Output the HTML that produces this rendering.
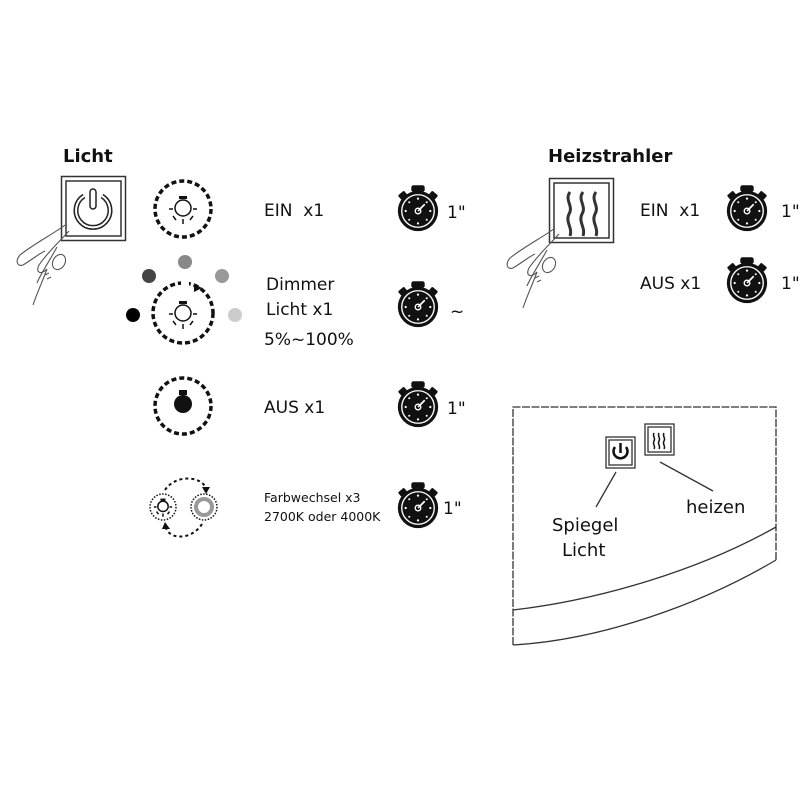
<!DOCTYPE html>
<html><head><style>
body{margin:0;background:#fff}
svg{display:block}
text{font-family:"DejaVu Sans","Liberation Sans",sans-serif;fill:#111;white-space:pre}
</style></head><body>
<svg width="800" height="800" viewBox="0 0 800 800">
<defs>
<g id="sw0">
<rect x="-6" y="-23" width="12" height="6" rx="2" fill="#111"/>
<rect x="-2" y="-19" width="4" height="4" fill="#111"/>
<rect x="-17" y="-17" width="7" height="5" rx="1" transform="rotate(-40 -13 -14)" fill="#111"/>
<rect x="10" y="-17" width="7" height="5" rx="1" transform="rotate(40 13 -14)" fill="#111"/>
<circle r="18" fill="#111"/>
<circle r="14.5" fill="none" stroke="#fff" stroke-width="1.2"/>
<g fill="#fff"><circle cx="0" cy="-11" r="1"/><circle cx="0" cy="11" r="1"/><circle cx="-11" cy="0" r="1"/><circle cx="11" cy="0" r="1"/><circle cx="7.8" cy="-7.8" r="0.9"/><circle cx="-7.8" cy="7.8" r="0.9"/><circle cx="7.8" cy="7.8" r="0.9"/><circle cx="-7.8" cy="-7.8" r="0.9"/></g>
<line x1="0" y1="0" x2="6" y2="-6" stroke="#fff" stroke-width="1.5"/>
<circle r="2.5" fill="none" stroke="#fff" stroke-width="1.2"/>
</g>
<g id="sw"><g transform="scale(1.12)"><use href="#sw0"/></g></g>
<g id="bulb" fill="none" stroke="#111" stroke-width="1.5">
<rect x="-4" y="-13" width="8" height="3" fill="#111" stroke="none"/>
<circle cx="0" cy="-1" r="8"/>
<line x1="-14" y1="0" x2="-10" y2="0"/><line x1="10" y1="0" x2="14" y2="0"/>
<line x1="-10" y1="7" x2="-7" y2="11"/><line x1="10" y1="7" x2="7" y2="11"/>
<line x1="0" y1="10" x2="0" y2="15"/>
</g>
<g id="hand" fill="none" stroke="#555" stroke-width="1.1">
<path d="M0,0 C-10,8 -30,18 -45,30 C-50,36 -48,42 -42,40 C-32,34 -25,28 -20,26"/>
<path d="M4,6 C-5,16 -18,28 -26,40 C-30,48 -24,50 -18,44"/>
<path d="M-8,22 C-15,35 -25,50 -28,58 M-18,44 C-22,55 -28,68 -32,80"/>
<ellipse cx="-6" cy="37" rx="6" ry="8" transform="rotate(30 -6 37)"/>
<path d="M-20,50 l4,-2 M-18,54 l4,-2"/>
</g>
</defs>

<text x="63" y="162" font-size="18" font-weight="bold">Licht</text>
<rect x="61.5" y="176.5" width="64" height="64" fill="none" stroke="#333" stroke-width="1.5"/>
<rect x="66" y="181" width="55" height="55" fill="none" stroke="#333" stroke-width="1.5"/>
<path d="M84,196 A17,17 0 1 0 102,196" fill="none" stroke="#222" stroke-width="5"/>
<path d="M84,196 A17,17 0 1 0 102,196" fill="none" stroke="#fff" stroke-width="2"/>
<rect x="90" y="189" width="6" height="20" rx="3" fill="#fff" stroke="#222" stroke-width="1.5"/>
<use href="#hand" x="65" y="225"/>

<circle cx="183" cy="209" r="28" fill="none" stroke="#111" stroke-width="3.5" stroke-dasharray="5 3"/>
<use href="#bulb" x="183" y="209"/>

<circle cx="133" cy="315" r="7" fill="#000"/>
<circle cx="149" cy="276" r="7" fill="#444"/>
<circle cx="185" cy="262" r="7" fill="#888"/>
<circle cx="222" cy="276" r="7" fill="#999"/>
<circle cx="235" cy="315" r="7" fill="#ccc"/>
<circle cx="183" cy="313" r="30" fill="none" stroke="#111" stroke-width="3.5" stroke-dasharray="5 3"/>
<rect x="181" y="281" width="8" height="6" fill="#fff"/>
<polygon points="194,284 202,288 194,292" fill="#111"/>
<use href="#bulb" x="183" y="314"/>

<circle cx="183" cy="406" r="28" fill="none" stroke="#111" stroke-width="3.5" stroke-dasharray="5 3"/>
<rect x="179" y="390" width="8" height="5" fill="#111"/>
<circle cx="183" cy="404" r="9" fill="#111"/>

<circle cx="163" cy="507" r="13" fill="none" stroke="#111" stroke-width="1.5" stroke-dasharray="1.5 1.5"/>
<g transform="translate(163,507) scale(0.65)"><g fill="none" stroke="#111" stroke-width="2.3">
<rect x="-4" y="-13" width="8" height="3" fill="#111" stroke="none"/>
<circle cx="0" cy="-1" r="8"/>
<line x1="-14" y1="0" x2="-10" y2="0"/><line x1="10" y1="0" x2="14" y2="0"/>
<line x1="-10" y1="7" x2="-7" y2="11"/><line x1="10" y1="7" x2="7" y2="11"/>
<line x1="0" y1="10" x2="0" y2="15"/></g></g>
<circle cx="204" cy="507" r="13" fill="none" stroke="#111" stroke-width="1.5" stroke-dasharray="1.5 1.5"/>
<circle cx="204" cy="507" r="8" fill="none" stroke="#999" stroke-width="4"/>
<path d="M165,490 C175,475 200,475 206,488" fill="none" stroke="#111" stroke-width="2" stroke-dasharray="3 3"/>
<polygon points="202,487 210,487 206,494" fill="#111"/>
<path d="M202,524 C192,540 170,540 166,528" fill="none" stroke="#111" stroke-width="2" stroke-dasharray="3 3"/>
<polygon points="162,529 170,529 165,522" fill="#111"/>

<text x="264" y="216" font-size="17">EIN  x1</text>
<text x="266" y="290" font-size="17">Dimmer</text>
<text x="266" y="315" font-size="17">Licht x1</text>
<text x="264" y="345" font-size="17">5%~100%</text>
<text x="264" y="413" font-size="17">AUS x1</text>
<text x="264" y="502" font-size="12.5">Farbwechsel x3</text>
<text x="264" y="521" font-size="12.5">2700K oder 4000K</text>

<use href="#sw" x="418" y="211"/>
<use href="#sw" x="418" y="307"/>
<use href="#sw" x="418" y="407"/>
<use href="#sw" x="418" y="508"/>
<text x="447" y="218" font-size="17">1"</text>
<text x="450" y="317" font-size="17">~</text>
<text x="447" y="414" font-size="17">1"</text>
<text x="443" y="514" font-size="17">1"</text>

<text x="548" y="162" font-size="18" font-weight="bold">Heizstrahler</text>
<rect x="549.5" y="178.5" width="64" height="64" fill="none" stroke="#333" stroke-width="1.5"/>
<rect x="554" y="183" width="55" height="55" fill="none" stroke="#333" stroke-width="1.5"/>
<g fill="none" stroke="#333" stroke-width="3">
<path d="M570,192 c-6,8 4,14 -1,22 c-4,8 4,14 1,22"/>
<path d="M583,192 c-6,8 4,14 -1,22 c-4,8 4,14 1,22"/>
<path d="M596,192 c-6,8 4,14 -1,22 c-4,8 4,14 1,22"/>
</g>
<use href="#hand" x="555" y="228"/>
<text x="640" y="216" font-size="17">EIN  x1</text>
<text x="640" y="289" font-size="17">AUS x1</text>
<use href="#sw" x="747" y="211"/>
<use href="#sw" x="747" y="283"/>
<text x="781" y="217" font-size="17">1"</text>
<text x="781" y="289" font-size="17">1"</text>

<g fill="none" stroke="#333" stroke-width="1.3">
<path d="M513,645 L513,407 L776,407 L776,560" stroke-dasharray="8 1.5"/>
<path d="M513,610 C600,600 700,570 776,527"/>
<path d="M513,645 C600,640 700,605 776,560"/>
<rect x="606" y="437" width="29" height="31"/>
<rect x="609" y="440" width="23" height="25"/>
<rect x="645" y="424" width="29" height="31"/>
<rect x="648" y="427" width="23" height="25"/>
<line x1="616" y1="472" x2="596" y2="507"/>
<line x1="660" y1="462" x2="713" y2="491"/>
</g>
<path d="M615,447 A7,7 0 1 0 626,447" fill="none" stroke="#111" stroke-width="2.5"/>
<line x1="620.5" y1="443" x2="620.5" y2="453" stroke="#111" stroke-width="2.5"/>
<g fill="none" stroke="#111" stroke-width="1.5">
<path d="M654,433 c-2,3 2,5 0,8 c-2,3 2,5 0,8"/>
<path d="M659,433 c-2,3 2,5 0,8 c-2,3 2,5 0,8"/>
<path d="M664,433 c-2,3 2,5 0,8 c-2,3 2,5 0,8"/>
</g>
<text x="552" y="531" font-size="18">Spiegel</text>
<text x="562" y="556" font-size="18">Licht</text>
<text x="686" y="513" font-size="18">heizen</text>
</svg>
</body></html>
